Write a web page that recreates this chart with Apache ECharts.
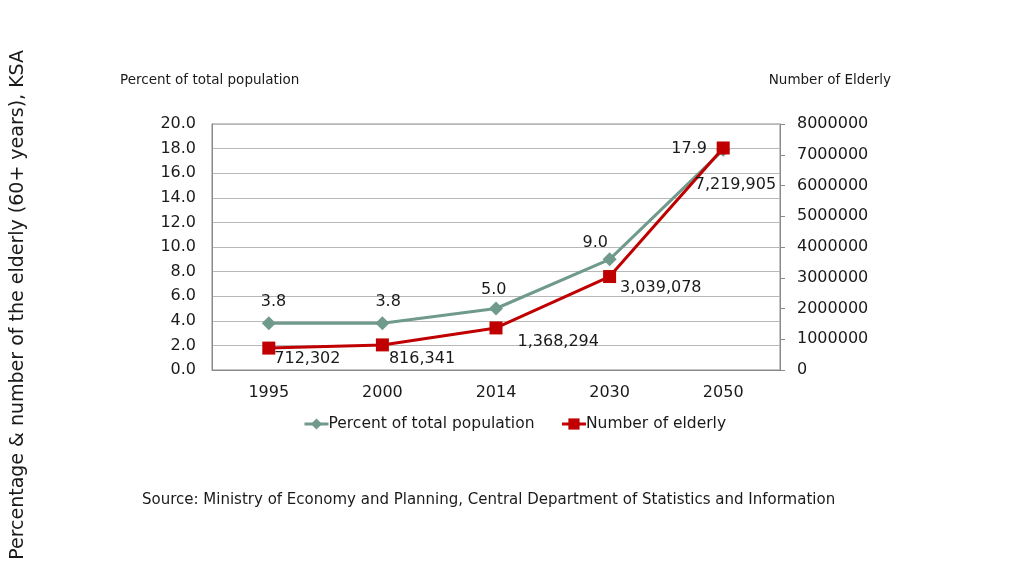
<!DOCTYPE html>
<html>
<head>
<meta charset="utf-8">
<script src="https://cdn.jsdelivr.net/npm/echarts@6/dist/echarts.min.js"></script>
<style>
  html, body { margin: 0; padding: 0; background: #fff; }
  #container { width: 1024px; height: 578px; }
</style>
</head>
<body>
<div id="container"></div>
<script>
// data
var years = ["1995", "2000", "2014", "2030", "2050"];
var percentValues = [3.8, 3.8, 5.0, 9.0, 17.9];
var elderlyValues = [712302, 816341, 1368294, 3039078, 7219905];
var leftTicks = { min: 0, max: 20, interval: 2 };
var rightTicks = { min: 0, max: 8000000, interval: 1000000 };

var font = "DejaVu Sans";
var green = "#6f9a8c";
var red = "#c00000";

// where each label sits relative to its point (offset from symbol box corner)
var greenLabelPos = [[-1, -22], [0, -22], [-8, -20], [-20, -17], [-45, -2]];
var redLabelPos = [[12, 9], [13, 12], [28, 12], [17, 10], [-22, 35]];

function fmtNum(v) {
    return String(v).replace(/\B(?=(\d{3})+(?!\d))/g, ",");
}

var dom = document.getElementById("container");
var myChart = echarts.init(dom);
var option;

option = {
    animation: false,
    textStyle: { fontFamily: font },
    title: [
        { text: "Percent of total population", left: 115, top: 68,
          textStyle: { fontFamily: font, fontSize: 13.5, fontWeight: "normal", color: "#1a1a1a" } },
        { text: "Number of Elderly", right: 128, top: 68,
          textStyle: { fontFamily: font, fontSize: 13.5, fontWeight: "normal", color: "#1a1a1a" } }
    ],
    graphic: [
        {
            type: "text", left: 9, top: 50, rotation: Math.PI / 2,
            style: { text: "Percentage & number of the elderly (60+ years), KSA",
                     font: "19px " + font, fill: "#1a1a1a" }
        },
        {
            type: "text", left: 142, top: 493,
            style: { text: "Source: Ministry of Economy and Planning, Central Department of Statistics and Information",
                     font: "15px " + font, fill: "#1a1a1a" }
        }
    ],
    legend: {
        left: 298, top: 411,
        itemWidth: 24, itemHeight: 14, itemGap: 26,
        lineStyle: { width: 3 },
        textStyle: { fontFamily: font, fontSize: 15.5, color: "#1a1a1a", padding: [0, 0, 0, -5] },
        data: ["Percent of total population", "Number of elderly"]
    },
    grid: {
        left: 212, right: 244, top: 124, bottom: 208,
        show: true, borderColor: "#8a8a8a", borderWidth: 1
    },
    xAxis: {
        type: "category",
        data: years,
        axisLine: { lineStyle: { color: "#8a8a8a" } },
        axisTick: { show: false },
        axisLabel: { fontFamily: font, fontSize: 16, color: "#1a1a1a", margin: 15 }
    },
    yAxis: [
        {
            type: "value",
            min: leftTicks.min, max: leftTicks.max, interval: leftTicks.interval,
            axisLine: { show: true, lineStyle: { color: "#8a8a8a" } },
            axisTick: { show: false },
            splitLine: { lineStyle: { color: "#b8b8b8" } },
            axisLabel: { fontFamily: font, fontSize: 16, color: "#1a1a1a", margin: 16,
                         formatter: function (v) { return v.toFixed(1); } }
        },
        {
            type: "value",
            min: rightTicks.min, max: rightTicks.max, interval: rightTicks.interval,
            position: "right",
            axisLine: { show: true, lineStyle: { color: "#8a8a8a" } },
            axisTick: { show: true, length: 5, lineStyle: { color: "#8a8a8a" } },
            splitLine: { show: false },
            axisLabel: { fontFamily: font, fontSize: 16, color: "#1a1a1a", margin: 17,
                         formatter: function (v) { return String(v); } }
        }
    ],
    series: [
        {
            name: "Percent of total population",
            type: "line",
            yAxisIndex: 0,
            color: green,
            symbol: "diamond",
            symbolSize: 14,
            lineStyle: { width: 3, color: green },
            itemStyle: { color: green },
            data: percentValues.map(function (v, i) {
                return { value: v, label: { position: greenLabelPos[i] } };
            }),
            label: {
                show: true, fontFamily: font, fontSize: 16, color: "#1a1a1a",
                formatter: function (p) { return p.value.toFixed(1); }
            },
            z: 2
        },
        {
            name: "Number of elderly",
            type: "line",
            yAxisIndex: 1,
            color: red,
            symbol: "rect",
            symbolSize: 13,
            lineStyle: { width: 3, color: red },
            itemStyle: { color: red },
            data: elderlyValues.map(function (v, i) {
                return { value: v, label: { position: redLabelPos[i] } };
            }),
            label: {
                show: true, fontFamily: font, fontSize: 16, color: "#1a1a1a",
                formatter: function (p) { return fmtNum(p.value); }
            },
            z: 3
        }
    ]
};

if (option && typeof option === 'object') {
    myChart.setOption(option);
}
</script>
</body>
</html>
